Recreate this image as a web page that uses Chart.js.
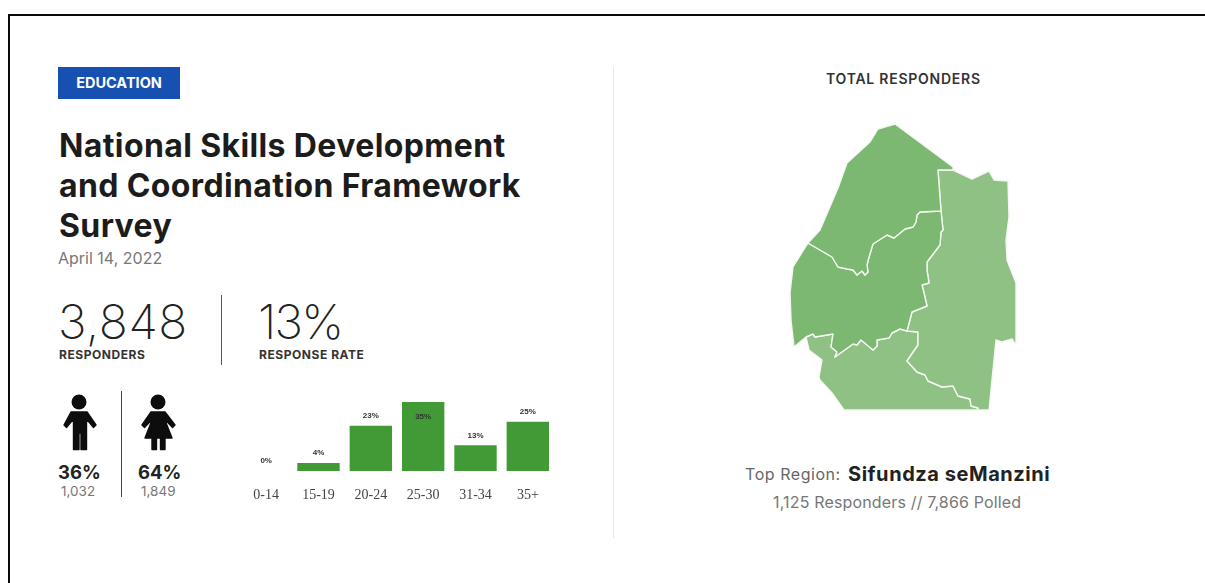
<!DOCTYPE html>
<html>
<head>
<meta charset="utf-8">
<title>National Skills Development and Coordination Framework Survey</title>
<script src="https://cdn.jsdelivr.net/npm/chart.js@4/dist/chart.umd.min.js"></script>
<style>
html,body{margin:0;padding:0;background:#fff;width:1205px;height:583px;overflow:hidden;font-family:Inter,"Open Sans",sans-serif;color:#1c1c1c}
.t{position:absolute;white-space:nowrap;line-height:1}
.frame-top{position:absolute;left:8px;top:14px;width:1197px;height:2px;background:#0a0a0a}
.frame-left{position:absolute;left:8px;top:14px;width:2px;height:569px;background:#0a0a0a}
.rule{position:absolute;width:1px}
.badge{position:absolute;left:58px;top:67px;width:122px;height:32px;background:#1650b0;color:#fff;font-weight:700;font-size:14.5px;line-height:32px;text-align:center}
.head{font-size:32px;font-weight:700;letter-spacing:.38px;left:59px}
.big{font-size:48px;font-weight:200;color:#222;top:298px}
.cap{font-size:12px;font-weight:700;color:#333;letter-spacing:.55px;top:349px}
canvas{position:absolute}
#ageBox{position:absolute;left:240px;top:395px;width:314px;height:110px}
#mapBox{position:absolute;left:780px;top:110px;width:250px;height:310px}
svg{position:absolute}
</style>
</head>
<body>
<div class="frame-top"></div><div class="frame-left"></div>
<div class="rule" style="left:613px;top:67px;height:471px;background:#e6e6e6"></div>
<div class="rule" style="left:221px;top:295px;height:70px;background:#555"></div>
<div class="rule" style="left:121px;top:391px;height:106px;background:#444"></div>

<div class="badge">EDUCATION</div>
<div class="t head" style="top:130px">National Skills Development</div>
<div class="t head" style="top:170px">and Coordination Framework</div>
<div class="t head" style="top:210px">Survey</div>
<div class="t" style="left:58px;top:250px;font-size:16px;color:#777">April 14, 2022</div>

<div class="t big" style="left:58px;letter-spacing:.6px">3,848</div>
<div class="t cap" style="left:59px">RESPONDERS</div>
<div class="t big" style="left:258px;letter-spacing:-1.8px">13%</div>
<div class="t cap" style="left:259px">RESPONSE RATE</div>

<svg style="left:58px;top:390px" width="42" height="62" viewBox="0 0 42 62" fill="#0d0d0d" stroke="#0d0d0d" stroke-width="1.4" stroke-linejoin="round">
  <circle cx="21" cy="12" r="7.5" stroke="none"/>
  <path d="M13 22h16l9 13-2.500 2.500-7-8.500v30.500h-5.500V43h-2v16.500h-5.500V29l-7 8.500L6 35z"/>
</svg>
<svg style="left:137px;top:390px" width="42" height="62" viewBox="0 0 42 62" fill="#0d0d0d" stroke="#0d0d0d" stroke-width="1.4" stroke-linejoin="round">
  <circle cx="21" cy="12" r="7.5" stroke="none"/>
  <path d="M14 22h14l10 13-2.500 2.500-8-8.500 7.500 19h-7v11.500h-4.500V48h-4v11.500H15V48H8l7.500-19-8 8.500L5 35z"/>
</svg>
<div class="t" style="left:58px;top:463px;font-size:18.500px;font-weight:700;color:#222">36%</div>
<div class="t" style="left:61px;top:485px;font-size:13.500px;color:#777">1,032</div>
<div class="t" style="left:138px;top:463px;font-size:18.500px;font-weight:700;color:#222">64%</div>
<div class="t" style="left:141px;top:485px;font-size:13.500px;color:#777">1,849</div>

<div id="ageBox"><canvas id="ageChart"></canvas></div>

<div class="t" style="left:826px;top:72px;font-size:14px;font-weight:600;color:#333;letter-spacing:.75px">TOTAL RESPONDERS</div>
<div id="mapBox"><canvas id="mapChart"></canvas></div>
<div class="t" style="left:745px;top:466px;font-size:16px;color:#666;letter-spacing:.55px">Top Region:</div>
<div class="t" style="left:848px;top:464px;font-size:20px;font-weight:700;color:#222;letter-spacing:.55px">Sifundza seManzini</div>
<div class="t" style="left:773px;top:494px;font-size:16px;color:#777;letter-spacing:.16px">1,125 Responders // 7,866 Polled</div>

<script>
// Age bands of the survey's responders, in percent.
const ageBands = ['0-14', '15-19', '20-24', '25-30', '31-34', '35+'];
const agePercent = [0, 4, 23, 35, 13, 25];

// Regional outlines of Eswatini as [x, y] map units.
const hhohho = [[895,124],[953,167],[953,170],[938,170],[941,211],[920,212],[917,215],[916,222],[913,227],[905,229],[894,238],[887,235],[873,244],[869,257],[867,265],[868,272],[865,275],[862,271],[857,275],[853,270],[847,269],[838,267],[832,257],[808,243],[820,230],[838,188],[847,163],[870,142],[878,129]];
const manzini = [[808,243],[832,257],[838,267],[847,269],[853,270],[857,275],[862,271],[865,275],[868,272],[867,265],[869,257],[873,244],[887,235],[894,238],[905,229],[913,227],[916,222],[917,215],[920,212],[941,211],[943,230],[941,232],[940,245],[927,262],[927,270],[929,283],[922,285],[924,293],[927,306],[912,312],[907,331],[900,329],[892,333],[889,338],[877,340],[877,346],[873,350],[861,340],[857,345],[853,344],[835,357],[837,352],[831,347],[833,334],[815,337],[813,334],[806,337],[794,347],[791,320],[790,293],[793,267]];
const lubombo = [[953,170],[972,179],[989,171],[994,180],[1008,181],[1009,217],[1006,240],[1007,260],[1016,283],[1016,345],[1012,339],[1002,342],[996,340],[989,410],[978,410],[978,408],[971,406],[970,399],[958,396],[953,386],[942,387],[928,381],[925,375],[917,372],[907,361],[918,345],[918,332],[907,331],[912,312],[927,306],[924,293],[922,285],[929,283],[927,270],[927,262],[940,245],[941,232],[943,230],[941,211],[938,170]];
const shiselweni = [[806,337],[813,334],[815,337],[833,334],[831,347],[837,352],[835,357],[853,344],[857,345],[861,340],[873,350],[877,346],[877,340],[889,338],[892,333],[900,329],[907,331],[918,332],[918,345],[907,361],[917,372],[925,375],[928,381],[942,387],[953,386],[958,396],[970,399],[971,406],[978,408],[978,410],[844,410],[832,393],[820,380],[819,377],[822,360],[809,350]];

// Percent labels above each bar; a label with no room above goes inside the bar.
const barValueLabels = {
  id: 'barValueLabels',
  afterDatasetsDraw(chart) {
    const { ctx, chartArea } = chart;
    const bars = chart.getDatasetMeta(0).data;
    ctx.save();
    ctx.font = 'bold 8px "Liberation Sans"';
    ctx.fillStyle = '#333';
    ctx.textAlign = 'center';
    ctx.textBaseline = 'middle';
    bars.forEach((bar, i) => {
      const above = bar.y - 10;
      const y = above < chartArea.top ? bar.y + 15 : above;
      ctx.fillText(agePercent[i] + '%', bar.x, y);
    });
    ctx.restore();
  }
};

new Chart(document.getElementById('ageChart'), {
  type: 'bar',
  data: {
    labels: ageBands,
    datasets: [{ data: agePercent, backgroundColor: '#429a36', barPercentage: 0.81, categoryPercentage: 1 }]
  },
  options: {
    responsive: true, maintainAspectRatio: false, animation: false,
    layout: { padding: { top: 7 } },
    plugins: { legend: { display: false }, tooltip: { enabled: false } },
    scales: {
      x: {
        grid: { display: false }, border: { display: false },
        afterFit(scale) { scale.height = 34; },
        ticks: { padding: 8, maxRotation: 0, color: '#444', font: { family: '"Liberation Serif"', size: 14 } }
      },
      y: { display: false, min: 0, max: 35 }
    }
  },
  plugins: [barValueLabels]
});

const closed = ring => ring.concat([ring[0]]).map(([x, y]) => ({ x, y }));
const region = (ring, color) => ({
  data: closed(ring), showLine: true, fill: 'shape', tension: 0, pointRadius: 0,
  backgroundColor: color, borderColor: '#f4f8f2', borderWidth: 1.4, borderJoinStyle: 'round', clip: false
});

new Chart(document.getElementById('mapChart'), {
  type: 'scatter',
  data: {
    datasets: [
      region(hhohho, '#7cb872'),
      region(manzini, '#7cb872'),
      region(lubombo, '#8fc084'),
      region(shiselweni, '#8fc084')
    ]
  },
  options: {
    responsive: true, maintainAspectRatio: false, animation: false,
    layout: { padding: 0 },
    plugins: { legend: { display: false }, tooltip: { enabled: false } },
    scales: {
      x: { display: false, min: 780, max: 1030 },
      y: { display: false, min: 110, max: 420, reverse: true }
    }
  }
});
</script>
</body>
</html>
